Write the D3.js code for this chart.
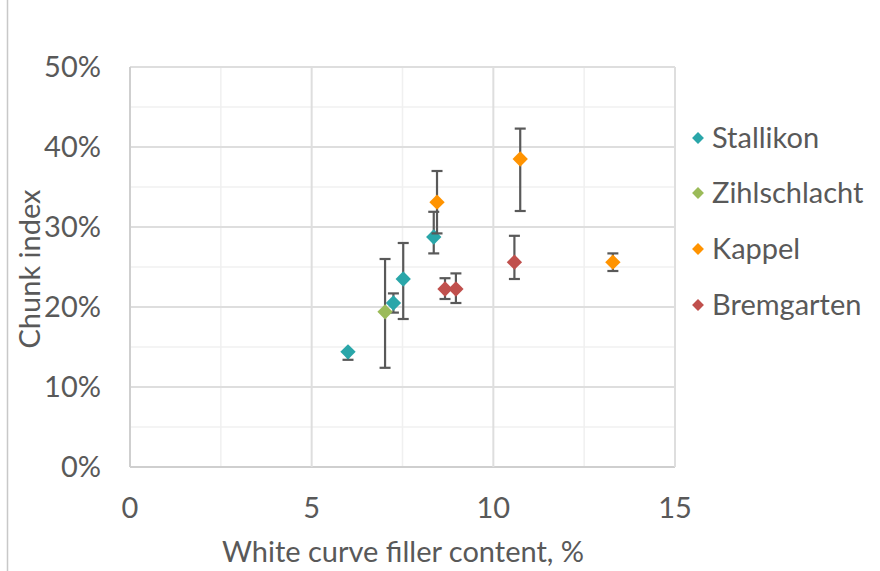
<!DOCTYPE html>
<html>
<head>
<meta charset="utf-8">
<script src="https://cdn.jsdelivr.net/npm/d3@7"></script>
<style>
  body { margin: 0; background: #fff; }
  svg { font-family: Lato, "Open Sans", sans-serif; }
</style>
</head>
<body>
<svg width="880" height="571"></svg>
<script>
// series names and colours
const seriesNames = ["Stallikon", "Zihlschlacht", "Kappel", "Bremgarten"];
const seriesColors = ["#2aa6a9", "#9bbb59", "#ff9300", "#c0504d"];

// points: x value, y value, lower end and upper end of the error bar
const stallikon = [
    { x: 6.0, y: 0.144, lo: 0.134, hi: 0.144 },
    { x: 7.25, y: 0.205, lo: 0.193, hi: 0.217 },
    { x: 7.52, y: 0.235, lo: 0.185, hi: 0.280 },
    { x: 8.36, y: 0.2875, lo: 0.267, hi: 0.319 }
];
const zihlschlacht = [
    { x: 7.02, y: 0.194, lo: 0.124, hi: 0.260 }
];
const kappel = [
    { x: 8.45, y: 0.331, lo: 0.292, hi: 0.370 },
    { x: 10.74, y: 0.385, lo: 0.320, hi: 0.423 },
    { x: 13.29, y: 0.256, lo: 0.245, hi: 0.267 }
];
const bremgarten = [
    { x: 8.67, y: 0.2225, lo: 0.210, hi: 0.236 },
    { x: 8.97, y: 0.2225, lo: 0.205, hi: 0.242 },
    { x: 10.58, y: 0.256, lo: 0.235, hi: 0.289 }
];
const allSeries = [stallikon, zihlschlacht, kappel, bremgarten];

const xTicks = [0, 5, 10, 15];
const yTicks = [0, 0.1, 0.2, 0.3, 0.4, 0.5];

const svg = d3.select("svg");
const area = { left: 130, right: 675, top: 67, bottom: 467 };
const fontSize = 29;

// шкалы
const scX = d3.scaleLinear().domain([0, 15]).range([area.left, area.right]);
const scY = d3.scaleLinear().domain([0, 0.5]).range([area.bottom, area.top]);

// frame line on the left of the picture
svg.append("line")
    .attr("x1", 7.5).attr("x2", 7.5).attr("y1", 0).attr("y2", 571)
    .attr("stroke", "#c8c8c8").attr("stroke-width", 1.5);

// minor grid
const g = svg.append("g");
g.selectAll(".minorY")
    .data(d3.range(0.05, 0.5, 0.1))
    .enter().append("line")
    .attr("x1", area.left).attr("x2", area.right)
    .attr("y1", d => scY(d)).attr("y2", d => scY(d))
    .attr("stroke", "#f0f0f0").attr("stroke-width", 1.5);
g.selectAll(".minorX")
    .data([2.5, 7.5, 12.5])
    .enter().append("line")
    .attr("y1", area.top).attr("y2", area.bottom)
    .attr("x1", d => scX(d)).attr("x2", d => scX(d))
    .attr("stroke", "#f0f0f0").attr("stroke-width", 1.5);

// major grid
g.selectAll(".majorY")
    .data(yTicks)
    .enter().append("line")
    .attr("x1", area.left).attr("x2", area.right)
    .attr("y1", d => scY(d)).attr("y2", d => scY(d))
    .attr("stroke", d => d == 0 ? "#cfcfcf" : "#dedede").attr("stroke-width", 2);
g.selectAll(".majorX")
    .data(xTicks)
    .enter().append("line")
    .attr("y1", area.top).attr("y2", area.bottom)
    .attr("x1", d => scX(d)).attr("x2", d => scX(d))
    .attr("stroke", d => d == 0 ? "#cfcfcf" : "#dedede").attr("stroke-width", 2);

// tick labels
const fmt = d3.format(".0%");
svg.append("g").selectAll("text")
    .data(yTicks)
    .enter().append("text")
    .attr("x", 101)
    .attr("y", d => scY(d) + 10)
    .attr("text-anchor", "end")
    .attr("font-size", fontSize)
    .attr("fill", "#595959")
    .text(d => fmt(d));
svg.append("g").selectAll("text")
    .data(xTicks)
    .enter().append("text")
    .attr("x", d => scX(d))
    .attr("y", 518)
    .attr("text-anchor", "middle")
    .attr("font-size", fontSize)
    .attr("fill", "#595959")
    .text(d => d);

// axis titles
svg.append("text")
    .attr("x", 403).attr("y", 562)
    .attr("text-anchor", "middle")
    .attr("font-size", fontSize)
    .attr("fill", "#595959")
    .text("White curve filler content, %");
svg.append("text")
    .attr("transform", "translate(40,269) rotate(-90)")
    .attr("text-anchor", "middle")
    .attr("font-size", fontSize)
    .attr("fill", "#595959")
    .text("Chunk index");

// error bars and markers
const diamond = d3.symbol().type(d3.symbolDiamond2).size(150);
allSeries.forEach((data, i) => {
    const eb = svg.append("g").attr("stroke", "#595959").attr("stroke-width", 2.2);
    data.forEach(d => {
        const cx = scX(d.x);
        eb.append("line").attr("x1", cx).attr("x2", cx).attr("y1", scY(d.lo)).attr("y2", scY(d.hi));
        eb.append("line").attr("x1", cx - 5.5).attr("x2", cx + 5.5).attr("y1", scY(d.lo)).attr("y2", scY(d.lo));
        eb.append("line").attr("x1", cx - 5.5).attr("x2", cx + 5.5).attr("y1", scY(d.hi)).attr("y2", scY(d.hi));
    });
    svg.append("g").selectAll("path")
        .data(data)
        .enter().append("path")
        .attr("d", diamond)
        .attr("transform", d => `translate(${scX(d.x)},${scY(d.y)})`)
        .attr("fill", seriesColors[i]);
});

// legend
const legY = [138, 193, 249, 305];
const leg = svg.append("g");
seriesNames.forEach((name, i) => {
    leg.append("path")
        .attr("d", d3.symbol().type(d3.symbolDiamond2).size(90)())
        .attr("transform", `translate(698,${legY[i]})`)
        .attr("fill", seriesColors[i]);
    leg.append("text")
        .attr("x", 712).attr("y", legY[i] + 10)
        .attr("font-size", fontSize)
        .attr("fill", "#595959")
        .text(name);
});
</script>
</body>
</html>
